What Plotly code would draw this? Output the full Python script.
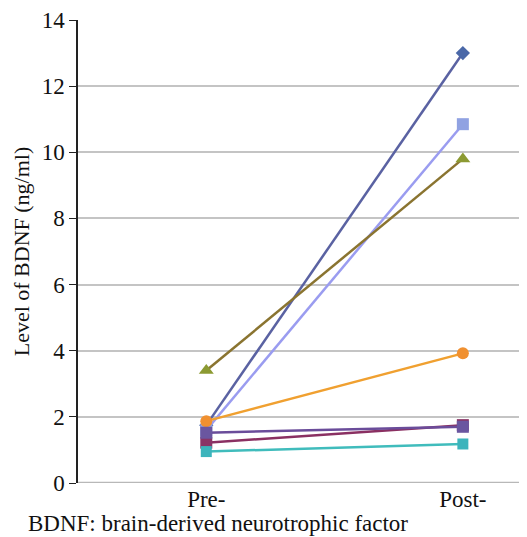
import plotly.graph_objects as go

categories = ["Pre-", "Post-"]
series_names = ["S1", "S2", "S3", "S4", "S5", "S6", "S7"]
pre_values = [1.75, 1.6, 3.4, 1.87, 1.22, 1.52, 0.95]
post_values = [13.0, 10.85, 9.8, 3.92, 1.75, 1.7, 1.18]
line_colors = ["#5a62a2", "#9a9cf0", "#8a7430", "#f0a030", "#8a3062", "#6a4c9a", "#40bcbc"]
marker_colors = ["#4a68a8", "#90a2e2", "#8c9a32", "#f09030", "#8a3466", "#6a56a0", "#3cb4bc"]
marker_symbols = ["diamond", "square", "triangle-up", "circle", "square", "square", "square"]
marker_sizes = [11, 12, 13, 12, 12, 12, 11]
y_ticks = [0, 2, 4, 6, 8, 10, 12, 14]

fig = go.Figure()
for i in range(len(series_names)):
    fig.add_trace(go.Scatter(
        x=[0, 1], y=[pre_values[i], post_values[i]],
        mode="lines+markers",
        name=series_names[i],
        line=dict(color=line_colors[i], width=2.5),
        marker=dict(color=marker_colors[i], symbol=marker_symbols[i], size=marker_sizes[i]),
        showlegend=False,
    ))

fig.update_layout(
    width=519, height=529,
    margin=dict(l=70, r=0, t=10, b=54),
    paper_bgcolor="white", plot_bgcolor="white",
    font=dict(family="Liberation Serif", color="#111111"),
    xaxis=dict(
        range=[-0.5, 1.25],
        tickvals=[0, 1], ticktext=categories,
        showgrid=False, zeroline=False, showline=False,
        tickfont=dict(size=23, family="Liberation Serif"),
        ticks="",
        ticklabelstandoff=0,
    ),
    yaxis=dict(
        range=[0, 14],
        tickvals=y_ticks,
        showgrid=True, gridcolor="#c4c4c4", gridwidth=1.5,
        zeroline=False,
        showline=True, linecolor="#222222", linewidth=1.5,
        ticks="outside", ticklen=7, tickcolor="#222222",
        ticklabeloverflow="allow",
        tickfont=dict(size=23, family="Liberation Serif"),
        title=dict(text="Level of BDNF (ng/ml)", font=dict(size=22, family="Liberation Serif"), standoff=6),
    ),
    annotations=[dict(
        text="BDNF: brain-derived neurotrophic factor",
        xref="paper", yref="paper", x=-0.113, y=-0.1161,
        xanchor="left", yanchor="bottom", showarrow=False,
        borderpad=0,
        font=dict(size=23, family="Liberation Serif", color="#111111"),
    )],
)
fig.add_shape(type="line", xref="paper", yref="y", x0=0, x1=1, y0=0, y1=0,
              line=dict(color="#b8b8b8", width=2.5), layer="below")

fig.write_html("out.html")
